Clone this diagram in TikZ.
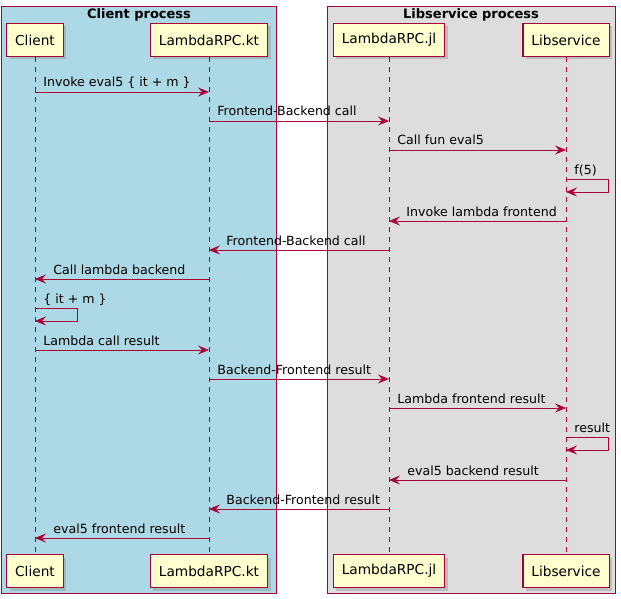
\documentclass[tikz,border=0pt]{standalone}
\usepackage{fontspec}
\setmainfont{DejaVu Sans}
\usetikzlibrary{arrows.meta,shadows}
\definecolor{umlred}{HTML}{A80036}
\definecolor{umlfill}{HTML}{FEFECE}
\definecolor{clientbg}{HTML}{ADD8E6}
\definecolor{libbg}{HTML}{DDDDDD}
\begin{document}
\begin{tikzpicture}[x=1pt,y=-1pt,
  part/.style={draw=umlred,line width=1.2pt,fill=umlfill,minimum height=33pt,
    inner xsep=8.5pt,font=\fontsize{13.7}{16}\selectfont,
    drop shadow={shadow xshift=3pt,shadow yshift=-3pt,opacity=0.35}},
  group/.style={draw=umlred,line width=0.8pt},
  title/.style={font=\fontsize{13}{15}\selectfont\bfseries},
  life/.style={draw=umlred,line width=0.8pt,dash pattern=on 5pt off 5pt},
  msg/.style={draw=umlred,line width=0.8pt,-{Stealth[length=11pt,width=9pt,inset=4pt]}},
  lbl/.style={anchor=base west,inner sep=0pt,yshift=5pt,font=\fontsize{12.6}{15}\selectfont}]
  \useasboundingbox (0,0) rectangle (621,599);
  \fill[white] (0,0) rectangle (621,599);
  % process boxes
  \draw[group,fill=clientbg] (1,6) rectangle (276,593);
  \draw[group,fill=libbg] (327,6) rectangle (615,593);
  \node[title] (clproc) at (139,14.5) {Client process};
  \node[title] (libproc) at (471,14.5) {Libservice process};
  % participants
  \node[part] (cl) at (35,40) {Client};
  \node[part] (kt) at (209,40) {LambdaRPC.kt};
  \node[part] (jl) at (389,40) {LambdaRPC.jl};
  \node[part] (ls) at (566,40) {Libservice};
  \node[part] (cl2) at (35,571) {Client};
  \node[part] (kt2) at (209,571) {LambdaRPC.kt};
  \node[part] (jl2) at (389,571) {LambdaRPC.jl};
  \node[part] (ls2) at (566,571) {Libservice};
  \draw[life] (cl) -- (cl2);
  \draw[life] (kt) -- (kt2);
  \draw[life] (jl) -- (jl2);
  \draw[life] (ls) -- (ls2);
  % messages
  \draw[msg] (cl |- 0,92) node[lbl,xshift=8pt]{Invoke eval5 \{ it + m \}} -- (kt |- 0,92);
  \draw[msg] (kt |- 0,121) node[lbl,xshift=8pt]{Frontend-Backend call} -- (jl |- 0,121);
  \draw[msg] (jl |- 0,150) node[lbl,xshift=8pt]{Call fun eval5} -- (ls |- 0,150);
  \draw[msg] (ls |- 0,179) node[lbl,xshift=8pt]{f(5)} -- ++(42,0) -- ++(0,13) -- (ls |- 0,192);
  \draw[msg] (ls |- 0,221) -- (jl |- 0,221) node[lbl,xshift=17pt]{Invoke lambda frontend};
  \draw[msg] (jl |- 0,250) -- (kt |- 0,250) node[lbl,xshift=17pt]{Frontend-Backend call};
  \draw[msg] (kt |- 0,279) -- (cl |- 0,279) node[lbl,xshift=18pt]{Call lambda backend};
  \draw[msg] (cl |- 0,308) node[lbl,xshift=8pt]{\{ it + m \}} -- ++(42,0) -- ++(0,13) -- (cl |- 0,321);
  \draw[msg] (cl |- 0,350) node[lbl,xshift=8pt]{Lambda call result} -- (kt |- 0,350);
  \draw[msg] (kt |- 0,379) node[lbl,xshift=8pt]{Backend-Frontend result} -- (jl |- 0,379);
  \draw[msg] (jl |- 0,408) node[lbl,xshift=8pt]{Lambda frontend result} -- (ls |- 0,408);
  \draw[msg] (ls |- 0,437) node[lbl,xshift=8pt]{result} -- ++(42,0) -- ++(0,13) -- (ls |- 0,450);
  \draw[msg] (ls |- 0,480) -- (jl |- 0,480) node[lbl,xshift=18pt]{eval5 backend result};
  \draw[msg] (jl |- 0,509) -- (kt |- 0,509) node[lbl,xshift=17pt]{Backend-Frontend result};
  \draw[msg] (kt |- 0,538) -- (cl |- 0,538) node[lbl,xshift=18pt]{eval5 frontend result};
\end{tikzpicture}
\end{document}
